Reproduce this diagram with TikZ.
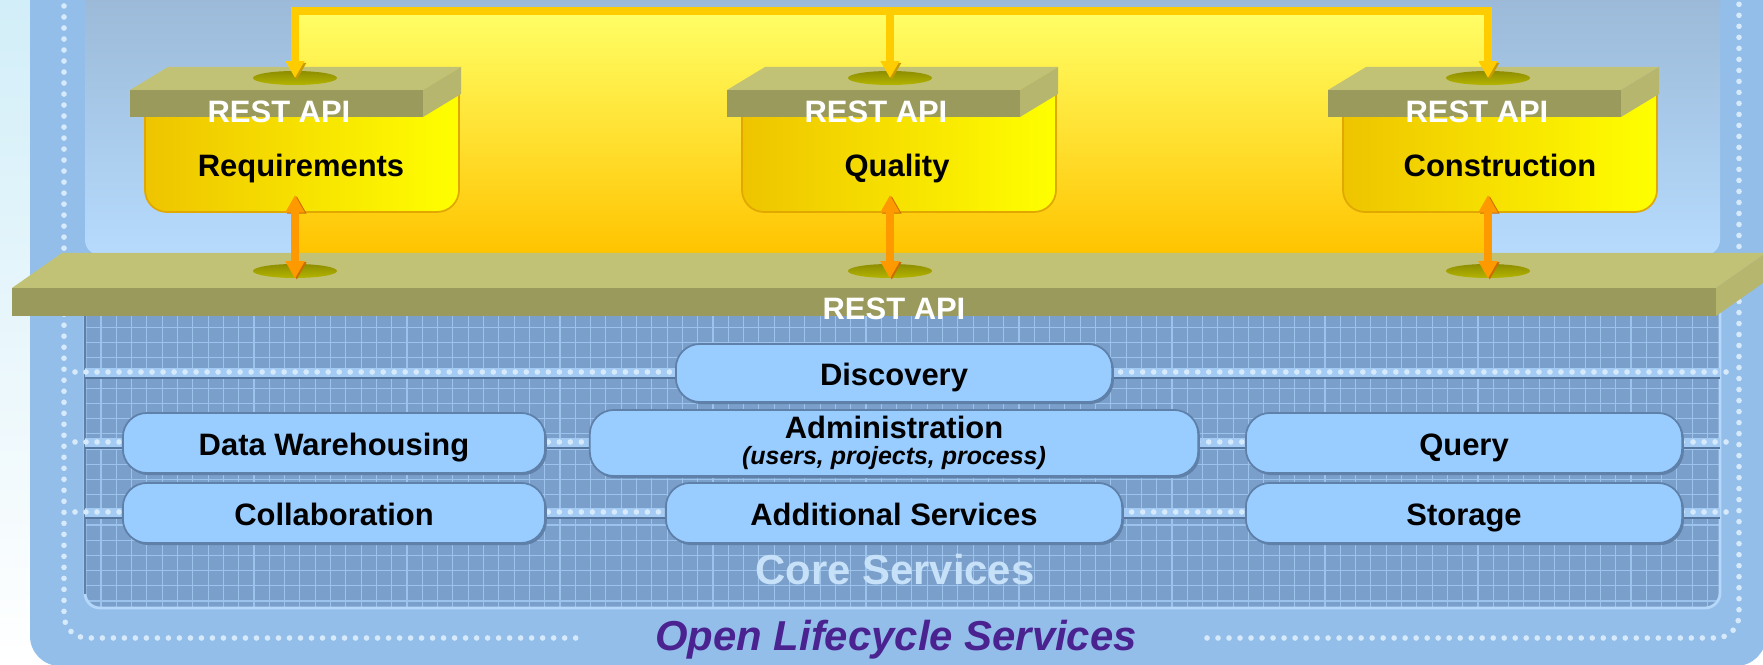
\documentclass[tikz,border=0pt]{standalone}
\usepackage{fontspec}
\setmainfont{Liberation Sans}
\usetikzlibrary{arrows.meta,shapes.geometric}

\definecolor{bgtop}{HTML}{D2EEF8}
\definecolor{lifeblue}{HTML}{93BEE9}
\definecolor{dotblue}{HTML}{D6EAFC}
\definecolor{upperA}{HTML}{99B6D4}
\definecolor{upperB}{HTML}{B6DBFD}
\definecolor{toolA}{HTML}{FFFF66}
\definecolor{toolB}{HTML}{FFC400}
\definecolor{gridfill}{HTML}{7A9FCB}
\definecolor{gridline}{HTML}{9CC3EB}
\definecolor{gridedge}{HTML}{5E7FA8}
\definecolor{gridlight}{HTML}{B4D7FA}
\definecolor{railband}{HTML}{A4CBF3}
\definecolor{raildark}{HTML}{56779F}
\definecolor{svcfill}{HTML}{99CCFF}
\definecolor{svcedge}{HTML}{5E80A9}
\definecolor{coretext}{HTML}{C7E1F8}
\definecolor{olstitle}{HTML}{4B2391}
\definecolor{slabtop}{HTML}{C2C277}
\definecolor{slabfront}{HTML}{9A9A5C}
\definecolor{slabside}{HTML}{B6B66E}
\definecolor{portdark}{HTML}{8E8E00}
\definecolor{portlight}{HTML}{B4B400}
\definecolor{boxgold}{HTML}{EEC400}
\definecolor{boxyellow}{HTML}{FFFF00}
\definecolor{boxedge}{HTML}{E0A800}
\definecolor{feedyellow}{HTML}{FFCC00}
\definecolor{feededge}{HTML}{C79A00}
\definecolor{linkorange}{HTML}{FF9900}
\definecolor{linkedge}{HTML}{C86E00}

\newcommand{\labelfont}{\bfseries\fontsize{8.8}{9}\selectfont}
\newcommand{\bigfont}{\bfseries\fontsize{11.9}{12}\selectfont}

\begin{document}
\begin{tikzpicture}[x=0.01cm, y=-0.01cm,
  port/.style={ellipse, inner sep=0pt, minimum width=0.84cm, minimum height=0.14cm, top color=portdark, bottom color=portlight},
  api/.style={inner sep=0pt, anchor=base, text=white, font=\labelfont},
  tool/.style={inner sep=0pt, anchor=base, text=black, font=\labelfont},
  toolbox/.style={left color=boxgold, right color=boxyellow, draw=boxedge, line width=0.5pt},
  svcbox/.style={rounded corners=0.24cm, fill=svcfill, draw=svcedge, line width=0.5pt, inner sep=0pt, align=center, font=\labelfont,
    preaction={fill=svcedge, transform canvas={xshift=0.5pt, yshift=-0.6pt}}},
  svc/.style={svcbox, text height=0.72em, text depth=0pt},
  dots/.style={dotblue, line width=1.6pt, line cap=round, dash pattern=on 0pt off 3.13pt},
  feed/.style={feedyellow, line width=2.3pt, >={Triangle[width=5.1pt,length=4.8pt]},
    preaction={draw=feededge, transform canvas={xshift=0.5pt, yshift=-0.5pt}}},
  link/.style={linkorange, line width=2.2pt, >={Triangle[width=5.2pt,length=5pt]}, <->,
    preaction={draw=linkedge, transform canvas={xshift=0.5pt, yshift=-0.3pt}}}
]
\useasboundingbox (0,0) rectangle (1763,665);
\shade[top color=bgtop, bottom color=white] (0,0) rectangle (1763,665);

% outer panel
\fill[lifeblue, rounded corners=0.3cm] (30,-50) rectangle (1766,666);
\draw[dots] (64,-5) [rounded corners=0.23cm] -- (64,638) -- (583,638);
\draw[dots] (1207,638) [rounded corners=0.23cm] -- (1739,638) -- (1739,-5);

% tools area
\shade[top color=upperA, bottom color=upperB, rounded corners=0.15cm] (85,-30) rectangle (1720,255);
\shade[top color=toolA, bottom color=toolB] (295,11) rectangle (1488,253);

% core services grid
\begin{scope}
  \clip[rounded corners=0.15cm] (85,290) rectangle (1720,608);
  \fill[gridfill] (85,290) rectangle (1720,608);
  \foreach \gx in {101,116.3,...,1720} \draw[gridline, line width=0.3pt] (\gx,290) -- (\gx,608);
  \foreach \gy in {297,312.2,...,608} \draw[gridline, line width=0.3pt] (85,\gy) -- (1720,\gy);
\end{scope}
\draw[gridlight, line width=0.8pt, rounded corners=0.15cm] (85,290) rectangle (1720,608);
\draw[gridedge, line width=0.6pt] (85,290) -- (85,594);

\foreach \ry in {373,443,513}{
  \fill[railband] (85,\ry-5) rectangle (1720,\ry+4);
  \draw[raildark, line width=0.6pt] (85,\ry+5) -- (1720,\ry+5);
  \draw[dots] (75,\ry-1) -- (1730,\ry-1);
}

\node[svc, minimum width=4.36cm, minimum height=0.58cm] (disc) at (894,373) {Discovery};
\node[svc, minimum width=4.22cm, minimum height=0.6cm] (dw) at (334,443) {Data Warehousing};
\node[svcbox, minimum width=6.08cm, minimum height=0.66cm] (admin) at (894,443)
  {Administration\\[-1.6pt]{\itshape\fontsize{7.1}{7.7}\selectfont (users, projects, process)}};
\node[svc, minimum width=4.36cm, minimum height=0.6cm] (query) at (1464,443) {Query};
\node[svc, minimum width=4.22cm, minimum height=0.6cm] (collab) at (334,513) {Collaboration};
\node[svc, minimum width=4.56cm, minimum height=0.6cm] (addl) at (894,513) {Additional Services};
\node[svc, minimum width=4.36cm, minimum height=0.6cm] (store) at (1464,513) {Storage};

\node[inner sep=0pt, anchor=base, text=coretext, font=\bigfont] (core) at (895,585) {Core Services};
\node[inner sep=0pt, anchor=base, text=olstitle, font=\bigfont\itshape] (ols) at (896,651) {Open Lifecycle Services};

% platform
\fill[slabtop] (12,288) -- (62,253) -- (1766,253) -- (1716,288) -- cycle;
\fill[slabfront] (12,288) rectangle (1716,316);
\fill[slabside] (1716,288) -- (1766,253) -- (1766,281) -- (1716,316) -- cycle;
\node[port] (reqbot) at (295,271) {};
\node[port] (qualbot) at (890,271) {};
\node[port] (consbot) at (1488,271) {};
\node[api] (coreapi) at (894,320) {REST API};

\begin{scope}[shift={(130,0)}]
  \shadedraw[toolbox] (15,92) -- (15,190) arc[start angle=180, end angle=90, radius=22] -- (307,212) arc[start angle=90, end angle=0, radius=22] -- (329,92) -- cycle;
  \fill[slabtop] (0,90) -- (38,67) -- (331,67) -- (293,90) -- cycle;
  \fill[slabfront] (0,90) rectangle (293,117);
  \fill[slabside] (293,90) -- (331,67) -- (331,94) -- (293,117) -- cycle;
  \node[port] (reqtop) at (165,78) {};
  \node[api] (reqapi) at (149,123) {REST API};
  \node[tool] (req) at (171,177) {Requirements};
  \coordinate (reqtip) at (165,195);
\end{scope}

\begin{scope}[shift={(727,0)}]
  \shadedraw[toolbox] (15,92) -- (15,190) arc[start angle=180, end angle=90, radius=22] -- (307,212) arc[start angle=90, end angle=0, radius=22] -- (329,92) -- cycle;
  \fill[slabtop] (0,90) -- (38,67) -- (331,67) -- (293,90) -- cycle;
  \fill[slabfront] (0,90) rectangle (293,117);
  \fill[slabside] (293,90) -- (331,67) -- (331,94) -- (293,117) -- cycle;
  \node[port] (qualtop) at (163,78) {};
  \node[api] (qualapi) at (149,123) {REST API};
  \node[tool] (qual) at (170,177) {Quality};
  \coordinate (qualtip) at (163,195);
\end{scope}

\begin{scope}[shift={(1328,0)}]
  \shadedraw[toolbox] (15,92) -- (15,190) arc[start angle=180, end angle=90, radius=22] -- (307,212) arc[start angle=90, end angle=0, radius=22] -- (329,92) -- cycle;
  \fill[slabtop] (0,90) -- (38,67) -- (331,67) -- (293,90) -- cycle;
  \fill[slabfront] (0,90) rectangle (293,117);
  \fill[slabside] (293,90) -- (331,67) -- (331,94) -- (293,117) -- cycle;
  \node[port] (constop) at (160,78) {};
  \node[api] (consapi) at (149,123) {REST API};
  \node[tool] (cons) at (172,177) {Construction};
  \coordinate (constip) at (160,195);
\end{scope}

% connectors
\coordinate (bus) at (890,11);
\draw[feed, <->] (reqtop.center) |- (bus) -| (constop.center);
\draw[feed, ->] (bus) -- (qualtop.center);
\draw[link] (reqtip) -- (reqbot.south);
\draw[link] (qualtip) -- (qualbot.south);
\draw[link] (constip) -- (consbot.south);

\end{tikzpicture}
\end{document}
